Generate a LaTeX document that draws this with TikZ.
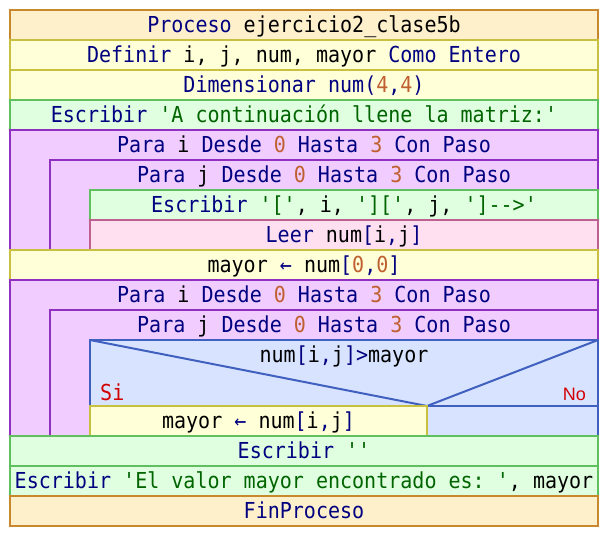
\documentclass[tikz,border=0pt]{standalone}
\usepackage{fontspec}
\setmonofont{DejaVu Sans Mono}[FakeStretch=0.91]
\newfontfamily\nofont{Liberation Sans}
\definecolor{procfill}{RGB}{255,240,204}
\definecolor{procline}{RGB}{200,136,44}
\definecolor{deffill}{RGB}{255,255,216}
\definecolor{defline}{RGB}{200,192,64}
\definecolor{outfill}{RGB}{224,255,224}
\definecolor{outline}{RGB}{96,192,96}
\definecolor{forfill}{RGB}{240,204,255}
\definecolor{forline}{RGB}{144,48,192}
\definecolor{infill}{RGB}{255,224,240}
\definecolor{inline}{RGB}{192,96,144}
\definecolor{iffill}{RGB}{216,228,255}
\definecolor{ifline}{RGB}{64,96,192}
\definecolor{kwcol}{RGB}{0,0,128}
\definecolor{numcol}{RGB}{192,96,48}
\definecolor{strcol}{RGB}{0,100,0}
\definecolor{redcol}{RGB}{210,0,0}
\newcommand\kwd[1]{\textcolor{kwcol}{#1}}
\newcommand\numc[1]{\textcolor{numcol}{#1}}
\newcommand\strc[1]{\textcolor{strcol}{#1}}
\tikzset{
  nsbox/.style={line width=2pt},
  procbox/.style={nsbox, fill=procfill, draw=procline},
  defbox/.style={nsbox, fill=deffill, draw=defline},
  outbox/.style={nsbox, fill=outfill, draw=outline},
  forbox/.style={nsbox, fill=forfill, draw=forline},
  inbox/.style={nsbox, fill=infill, draw=inline},
  ifbox/.style={nsbox, fill=iffill, draw=ifline},
  txt/.style={anchor=base, inner sep=0pt, text=black, font=\ttfamily\fontsize{22}{26}\selectfont},
}
\begin{document}
\begin{tikzpicture}[x=1pt,y=-1pt]
\useasboundingbox (0,0) rectangle (608,536);
% boxes
\path[procbox] (10,10) rectangle (598,40);
\path[defbox] (10,40) rectangle (598,70);
\path[defbox] (10,70) rectangle (598,100);
\path[outbox] (10,100) rectangle (598,130);
\path[forbox] (10,130) rectangle (598,250);
\path[forbox] (50,160) rectangle (598,250);
\path[outbox] (90,190) rectangle (598,220);
\path[inbox] (90,220) rectangle (598,250);
\path[defbox] (10,250) rectangle (598,280);
\path[forbox] (10,280) rectangle (598,436);
\path[forbox] (50,310) rectangle (598,436);
\path[ifbox] (90,340) rectangle (598,436);
\coordinate (cl) at (90,340);
\coordinate (cr) at (598,340);
\coordinate (cm) at (427,406);
\draw[nsbox, draw=ifline] (cl) -- (cm) -- (cr);
\draw[nsbox, draw=ifline] (427,406) -- (598,406);
\path[defbox] (90,406) rectangle (427,436);
\path[outbox] (10,436) rectangle (598,466);
\path[outbox] (10,466) rectangle (598,496);
\path[procbox] (10,496) rectangle (598,526);
% texts
\node[txt] (t1) at (304,32) {\kwd{Proceso} ejercicio2\_clase5b};
\node[txt] (t2) at (304,62) {\kwd{Definir} i, j, num, mayor \kwd{Como Entero}};
\node[txt] (t3) at (304,92) {\kwd{Dimensionar num(}\numc{4}\kwd{,}\numc{4}\kwd{)}};
\node[txt] (t4) at (304,122) {\kwd{Escribir} \strc{'A continuación llene la matriz:'}};
\node[txt] (t5) at (304,152) {\kwd{Para} i \kwd{Desde} \numc{0} \kwd{Hasta} \numc{3} \kwd{Con Paso}};
\node[txt] (t6) at (324,182) {\kwd{Para} j \kwd{Desde} \numc{0} \kwd{Hasta} \numc{3} \kwd{Con Paso}};
\node[txt] (t7) at (344,212) {\kwd{Escribir} \strc{'['}, i, \strc{']['}, j, \strc{']-{}->'}};
\node[txt] (t8) at (344,242) {\kwd{Leer} num\kwd{[}i\kwd{,}j\kwd{]}};
\node[txt] (t9) at (304,272) {mayor \kwd{←} num\kwd{[}\numc{0}\kwd{,}\numc{0}\kwd{]}};
\node[txt] (t10) at (304,302) {\kwd{Para} i \kwd{Desde} \numc{0} \kwd{Hasta} \numc{3} \kwd{Con Paso}};
\node[txt] (t11) at (324,332) {\kwd{Para} j \kwd{Desde} \numc{0} \kwd{Hasta} \numc{3} \kwd{Con Paso}};
\node[txt] (t12) at (344,362) {num\kwd{[}i\kwd{,}j\kwd{]>}mayor};
\node[txt, anchor=base west, text=redcol] (si) at (100,400) {Si};
\node[anchor=base east, inner sep=0pt, text=redcol, font=\nofont\fontsize{18}{22}\selectfont] (no) at (586,400) {No};
\node[txt] (t13) at (258.5,428) {mayor \kwd{←} num\kwd{[}i\kwd{,}j\kwd{]}};
\node[txt] (t14) at (304,458) {\kwd{Escribir} \strc{''}};
\node[txt] (t15) at (304,488) {\kwd{Escribir} \strc{'El valor mayor encontrado es: '}, mayor};
\node[txt] (t16) at (304,518) {\kwd{FinProceso}};
\end{tikzpicture}
\end{document}
